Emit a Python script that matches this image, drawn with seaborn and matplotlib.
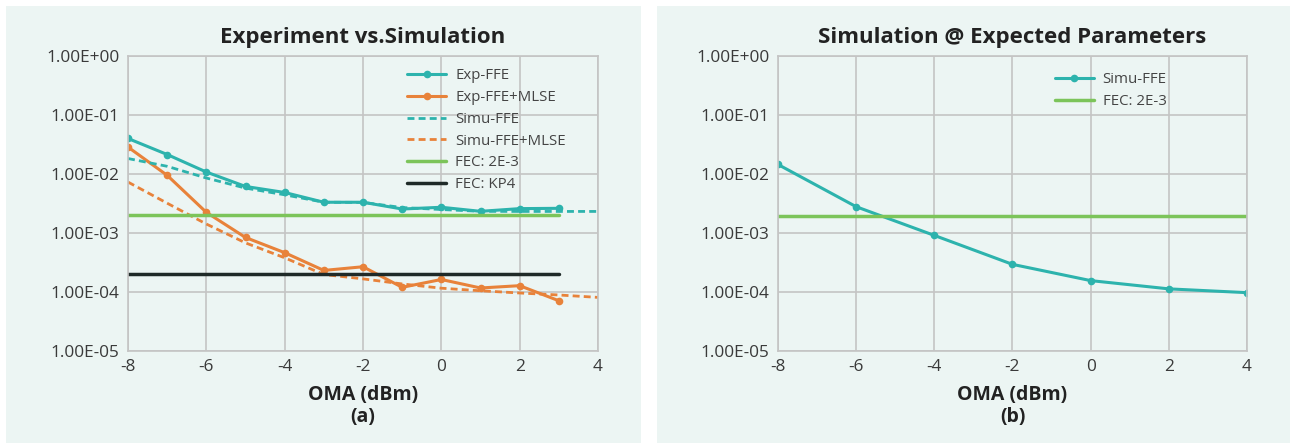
import matplotlib
matplotlib.use('Agg')
import matplotlib.pyplot as plt
import matplotlib.ticker as mticker
from matplotlib.patches import Rectangle
import seaborn as sns

# data
exp_x = [-8, -7, -6, -5, -4, -3, -2, -1, 0, 1, 2, 3]
exp_ffe = [0.040, 0.0214, 0.0108, 0.00615, 0.00486, 0.00332, 0.00332, 0.00255, 0.00273, 0.00233, 0.00259, 0.00262]
exp_mlse = [0.0286, 0.0095, 0.00224, 0.00084, 0.000464, 0.000232, 0.000268, 0.000120, 0.000163, 0.000117, 0.000128, 0.0000711]

simu_x = [-8, -7, -6, -5, -4, -3, -2, -1, 0, 1, 2, 3, 4]
simu_ffe = [0.0183, 0.0135, 0.00855, 0.00577, 0.00444, 0.00332, 0.0033, 0.0027, 0.0025, 0.00233, 0.00232, 0.00232, 0.00232]
simu_mlse = [0.0073, 0.0032, 0.00142, 0.00068, 0.00038, 0.000198, 0.000167, 0.000137, 0.000116, 0.000105, 0.0000962, 0.000089, 0.000081]

fec_x_a = [-8, 3]
fec_2e3 = 2e-3
fec_kp4 = 2e-4

b_x = [-8, -6, -4, -2, 0, 2, 4]
b_simu_ffe = [0.0145, 0.00279, 0.00091, 0.000294, 0.000156, 0.000113, 0.0000975]
fec_x_b = [-8, 4]
fec_b = 1.93e-3

TEAL = '#2DB3AD'
ORANGE = '#E8823A'
GREEN = '#7CC45A'
BLACK = '#1F2A28'
BG = '#ECF5F3'

sns.set_theme(style='whitegrid')
plt.rcParams['font.family'] = ['Open Sans', 'DejaVu Sans']
plt.rcParams['axes.unicode_minus'] = False

fig = plt.figure(figsize=(12.9, 4.45), dpi=100)
fig.patch.set_facecolor('white')
W, H = 1290, 445
fig.patches.append(Rectangle((6 / W, 2 / H), 635 / W, 437 / H, transform=fig.transFigure,
                             facecolor=BG, edgecolor='none', zorder=-10))
fig.patches.append(Rectangle((657 / W, 2 / H), 633 / W, 437 / H, transform=fig.transFigure,
                             facecolor=BG, edgecolor='none', zorder=-10))

ax1 = fig.add_axes([128 / W, 1 - 351 / H, 470 / W, 295 / H])
ax2 = fig.add_axes([778 / W, 1 - 351 / H, 469 / W, 295 / H])


def style_axes(ax, title, sub):
    ax.set_facecolor('none')
    ax.set_yscale('log')
    ax.set_ylim(1e-5, 1)
    ax.set_xlim(-8, 4)
    ax.set_xticks([-8, -6, -4, -2, 0, 2, 4])
    ax.set_yticks([1e-5, 1e-4, 1e-3, 1e-2, 1e-1, 1])
    ax.yaxis.set_major_formatter(mticker.FuncFormatter(
        lambda v, p: '{:.2E}'.format(v)))
    ax.yaxis.set_minor_locator(mticker.NullLocator())
    ax.grid(True, color='#C4C4C4', linewidth=1.2)
    for s in ax.spines.values():
        s.set_color('#C4C4C4')
        s.set_linewidth(1.2)
    ax.tick_params(axis='both', labelsize=12.4, colors='#3A3A3A', length=0, pad=6)
    ax.set_title(title, fontsize=16, fontweight='bold', color='#222222', pad=9)
    ax.set_xlabel('OMA (dBm)\n' + sub, fontsize=14, fontweight='bold', color='#222222',
                  linespacing=1.15, labelpad=7)
    ax.set_ylabel('')


# panel (a)
sns.lineplot(x=exp_x, y=exp_ffe, ax=ax1, color=TEAL, linewidth=2.2, marker='o',
             markersize=5.5, markeredgewidth=0, label='Exp-FFE')
sns.lineplot(x=exp_x, y=exp_mlse, ax=ax1, color=ORANGE, linewidth=2.2, marker='o',
             markersize=5.5, markeredgewidth=0, label='Exp-FFE+MLSE')
sns.lineplot(x=simu_x, y=simu_ffe, ax=ax1, color=TEAL, linewidth=2, linestyle=(0, (2.5, 1.5)),
             label='Simu-FFE')
sns.lineplot(x=simu_x, y=simu_mlse, ax=ax1, color=ORANGE, linewidth=2, linestyle=(0, (2.5, 1.5)),
             label='Simu-FFE+MLSE')
sns.lineplot(x=fec_x_a, y=[fec_2e3] * len(fec_x_a), ax=ax1, color=GREEN, linewidth=2.5,
             label='FEC: 2E-3')
sns.lineplot(x=fec_x_a, y=[fec_kp4] * len(fec_x_a), ax=ax1, color=BLACK, linewidth=2.5,
             label='FEC: KP4')
style_axes(ax1, 'Experiment vs.Simulation', '(a)')
ax1.legend(loc='upper left', bbox_to_anchor=(0.594, 0.958), frameon=False, fontsize=10.8,
           handlelength=2.6, labelspacing=0.45, handletextpad=0.6, labelcolor='#444444',
           borderaxespad=0, borderpad=0)

# panel (b)
sns.lineplot(x=b_x, y=b_simu_ffe, ax=ax2, color=TEAL, linewidth=2.2, marker='o',
             markersize=5.5, markeredgewidth=0, label='Simu-FFE')
sns.lineplot(x=fec_x_b, y=[fec_b] * len(fec_x_b), ax=ax2, color=GREEN, linewidth=2.5,
             label='FEC: 2E-3')
style_axes(ax2, 'Simulation @ Expected Parameters', '(b)')
ax2.legend(loc='upper left', bbox_to_anchor=(0.59, 0.945), frameon=False, fontsize=10.8,
           handlelength=2.6, labelspacing=0.45, handletextpad=0.6, labelcolor='#444444',
           borderaxespad=0, borderpad=0)

fig.savefig('out.png', dpi=100, facecolor='white')
